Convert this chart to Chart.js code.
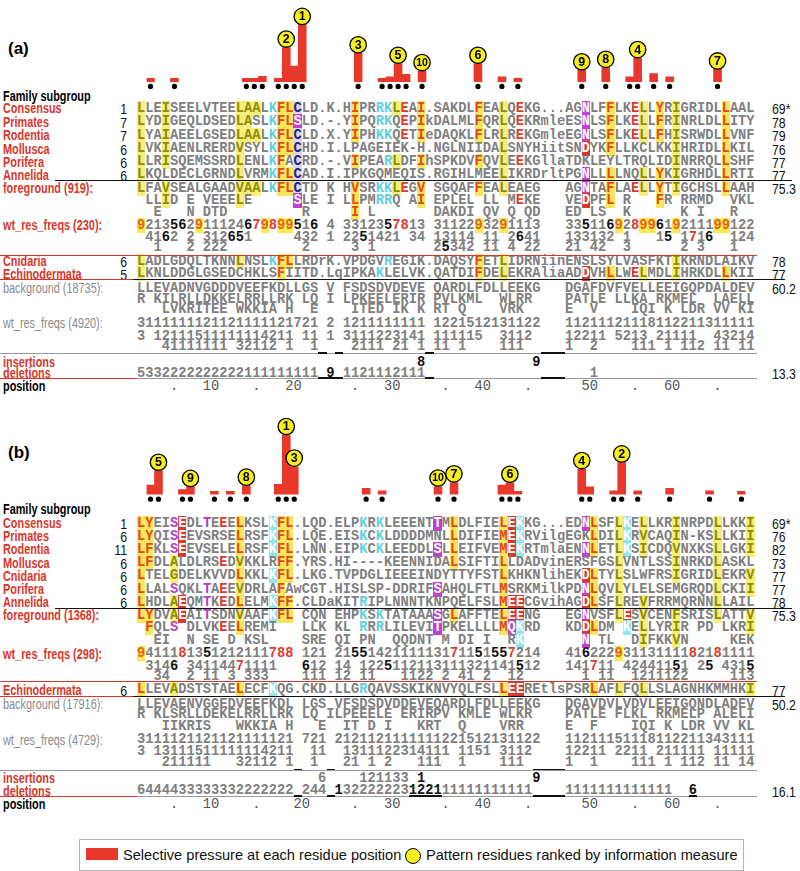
<!DOCTYPE html>
<html>
<head>
<meta charset="utf-8">
<title>Selective pressure on alignment columns</title>
<script src="https://cdn.jsdelivr.net/npm/chart.js@4.4.1/dist/chart.umd.min.js"></script>
<style>
  body { margin: 0; background: #fff; }
  #page { position: relative; width: 800px; height: 871px; overflow: hidden; }
  canvas { position: absolute; left: 137px; }
  .seq { position: absolute; left: 137px; height: 14px; line-height: 14px; white-space: pre;
         font: bold 13.73px "Liberation Mono", "Courier New", monospace; color: #808080; }
  .seq.pos { font-weight: normal; color: #555; }
  .lab { position: absolute; left: 3px; line-height: 14px; white-space: nowrap;
         transform-origin: 0 50%; transform: scaleX(0.75);
         font: bold 14.5px "Liberation Sans", Arial, sans-serif; color: #d8372b; }
  .lab.blk { color: #000; }
  .lab.gry { color: #8a8a8a; font-weight: normal; }
  .num { position: absolute; line-height: 14px; white-space: nowrap;
         font: 15px "Liberation Sans", Arial, sans-serif; color: #111; transform: scaleX(0.82); }
  .num.left { left: 77px; width: 50px; text-align: right; transform-origin: 100% 50%; }
  .num.right { left: 772px; transform-origin: 0 50%; }
  .panel { position: absolute; left: 8px; font: bold 17px "Liberation Sans", Arial, sans-serif; }
  .ln { position: absolute; height: 1px; }
  /* residue classes */
  .y { background: #f4ee7c; color: #8f8c0a; }
  .o { background: #f5e75a; color: #e4481e; }
  .c { color: #5fd0e2; }
  .C { background: #92e4ef; color: #fff; }
  .m { background: #c43fd0; color: #fff; }
  .p { color: #b43fc8; }
  .r { color: #e0392c; }
  .R { background: #d8392c; color: #fff; }
  .v { background: #ddd4f2; color: #1c2380; }
  .n { background: #f7ea52; color: #e4641c; }
  .k { color: #111; }
  #legend { position: absolute; left: 79px; top: 839px; width: 663px; height: 30px;
            border: 1px solid #b4b4b4; font: 14.6px "Liberation Sans", Arial, sans-serif; color: #111; }
  #legend .sw { position: absolute; left: 6px; top: 8px; width: 32px; height: 12px; background: #e8382b; }
  #legend .ci { position: absolute; left: 325px; top: 8px; width: 16px; height: 16px; border-radius: 50%;
                background: #f6ee1e; border: 1.3px solid #000; box-sizing: border-box; }
  #legend .t1 { position: absolute; left: 43px; top: 7px; }
  #legend .t2 { position: absolute; left: 346px; top: 7px; }
</style>
</head>
<body>
<div id="page">
  <canvas id="barsA" width="618" height="100" style="top:0px"></canvas>
  <canvas id="barsB" width="618" height="112" style="top:400px"></canvas>
  <div id="legend">
    <div class="sw"></div><div class="t1">Selective pressure at each residue position</div>
    <div class="ci"></div><div class="t2">Pattern residues ranked by information measure</div>
  </div>
</div>
<script>
// alignment columns (categories)
const columns = Array.from({ length: 75 }, (_, i) => i + 1);

// ---- panel (a) data ----
const pressureColsA = [1, 4, 13, 14, 15, 17, 18, 19, 20, 27, 30, 31, 32, 33, 35, 42, 45, 47, 55, 58, 61, 62, 64, 66, 72];
const pressureA     = [4, 4, 4, 4, 6.5, 4, 42, 19, 70, 35, 4, 6, 22, 9, 13, 22, 6, 4, 14, 17, 6, 29, 10, 6, 15];
const rankColsA = [20, 18, 27, 62, 32, 42, 72, 58, 55, 35];   // rank 1..10

// ---- panel (b) data ----
const pressureColsB = [1, 2, 5, 6, 9, 11, 13, 17, 18, 19, 28, 30, 37, 39, 45, 46, 47, 55, 56, 59, 60, 62, 66, 71, 75];
const pressureB     = [11, 28, 5.5, 8.5, 3.5, 3.5, 10, 12, 71, 33, 7, 4, 9, 14, 11, 13.5, 3.5, 30, 9, 4, 38, 4, 7, 4, 3.5];
const rankColsB = [18, 60, 19, 55, 2, 46, 39, 13, 6, 37];

// position ruler tick labels: [column of last char, text]
const posTicksA = [[5, '.'], [10, '10'], [15, '.'], [20, '20'], [27, '.'], [32, '30'], [38, '.'], [43, '40'], [48, '.'], [56, '50'], [61, '.'], [66, '60'], [71, '.']];
const posTicksB = [[5, '.'], [10, '10'], [15, '.'], [21, '20'], [27, '.'], [32, '30'], [38, '.'], [43, '40'], [48, '.'], [56, '50'], [61, '.'], [66, '60'], [71, '.']];

// pattern residues per column: residue + class letter
const patternA = {
  1: 'Ly', 4: 'Iy Vy', 13: 'Ly Vy', 14: 'Ay', 15: 'Ay', 17: 'Kc', 18: 'Fo', 19: 'Lo', 20: 'Cv Sm',
  27: 'Io Vo Lo', 30: 'Rc Kc', 31: 'Kc Rc', 32: 'Ly', 33: 'Er', 35: 'Io Vo', 42: 'Fo', 45: 'Ly', 47: 'Er',
  55: 'Nm DR', 58: 'Fo Lo', 61: 'Er', 62: 'Ly', 64: 'Yo Fo', 66: 'Iy', 72: 'Lo'
};
const patternB = {
  1: 'Lo', 2: 'Yo Fo', 5: 'Sp Ay Gy', 6: 'ER', 9: 'Tp', 11: 'Er', 13: 'Lo Vy', 17: 'KC', 18: 'Fo', 19: 'Lo Fo',
  28: 'Kc Rc', 30: 'Kc Rc', 37: 'Tm Sm', 39: 'Lo', 45: 'Lo Mo', 46: 'ER Qm', 47: 'KC ER', 55: 'Nm DR', 56: 'Lo',
  59: 'Ly', 60: 'KC ER', 62: 'Ly Vy Iy', 66: 'Iy Fy Vy', 71: 'Ly', 75: 'Iy Vy'
};

// ---- panel (a) sequences ----
const famNamesA = ['Consensus', 'Primates', 'Rodentia', 'Mollusca', 'Porifera', 'Annelida'];
const famStartA = ['1', '7', '7', '6', '6', '6'];
const famLenA = ['69*', '78', '79', '76', '77', '77'];
const famSeqA = [
  'LLEISEELVTEELAALKFLCLD.K.HIPRRKL' + 'EAI.SAKDLFEALQEKG...AGNLFFLKELLYRIGRIDLLAAL',
  'LYDIGEQLDSEDLASLKFLSLD.-.YIPQRKQ' + 'EPIkDALMLFQRLQEKRmleESNLSFLKELLFRINRLDLLITY',
  'LYAIAEELGSEDLAALKFLCLD.X.YIPHKKQ' + 'ETIeDAQKLFLRLREKGmleEGNLSFLKELLFHISRWDLLVNF',
  'LVKIAENLRERDVSYLKFLCHD.I.LPAGEIE' + 'K-H.NGLNIIDALSNYHiitSNDYKFLLKCLKKIHRIDLLKIL',
  'LLRISQEMSSRDLENLKFACRD.-.VIPEARL' + 'DFIhSPKDVFQVLEEKGllaTDKLEYLTRQLIDINRRQLLSHF',
  'LKQLDECLGRNDLVRMKFLCAD.I.IPKGQME' + 'QIS.RGIHLMEELIKRDrltPGNLLLLNQLLYKIGRHDLLRTI'
];
const fgSeqA = [
  'LFAVSEALGAADVAALKFLCTD K HVSRKKL' + 'EGV SGQAFFEALEAEG   AGNTAFLAELLYTIGCHSLLAAH',
  ' LLID E VEEELE     SLE I LLPMRRQ' + ' AI EPLEL LL MEKE   VEDPFL R   FR RRMD  VKL',
  '  E   N DTD         R     I L   ' + '    DAKDI QV Q QD   ED LS  K      K I   R  '
];
const fgFreqA = [
  '9213562911124679899516 4 3312357' + '813 3112293291113   33511692899619211199122',
  ' 4162 2 312651     432 1 2251421' + ' 34 13114 11 2641   133132 1   15 1716  124',
  '  1   2 222         2     3 1   ' + '    25342 11 4 22   21 42  3      2 3   1  '
];
const extraNamesA = ['Cnidaria', 'Echinodermata'];
const extraStartA = ['6', '5'];
const extraLenA = ['78', '77'];
const extraSeqA = [
  'LADLGDQLTKNNLNSLKFLLRDrK.VPDGVRE' + 'GIK.DAQSYFETLIDRNiinENSLSYLVASFKTIKRNDLAIKV',
  'LKNLDDGLGSEDCHKLSFIITD.LqIPKAKLE' + 'LVK.QATDIFDELEKRAliaADDVHLLWELMDLIHRKDLLKII'
];
const bgSeqA = [
  'LLEVADNVGDDDVEEFKDLLGS V FSDSDVD' + 'EVE QARDLFDLLEEKG   DGAFDVFVELLEEIGQPDALDEV',
  'R KILRLLDKKELRRLLRK LQ I LPKEELE' + 'RIR PVLKML  WLRR    PATLE LLKA RKMEL  LAELL',
  '   LVKRITEE WKKIA H  E    ITED I' + 'K K RT Q    VRK     E  V    IQI K LDR VV KI'
];
const bgFreqA = [
  '3111111121121111121721 2 1211111' + '111 1221512131122   11211121118112211311111',
  '3 12111511111114211 11 1 3111223' + '141 111115  3112    12211 5213 21111  43214',
  '   41111111 32112 1  1    2111 2' + '1 1 11 1    111     1  2    111 1 112 11 11'
];
const insertA = '                                  8             9';
const deleteA = '5332222222222111111111 9 1121112111                    1';
const boldInsA = [35, 49], boldDelA = [24];

// ---- panel (b) sequences ----
const famNamesB = ['Consensus', 'Primates', 'Rodentia', 'Mollusca', 'Cnidaria', 'Porifera', 'Annelida'];
const famStartB = ['1', '6', '11', '6', '6', '6', '6'];
const famLenB = ['69*', '76', '82', '73', '77', '77', '78'];
const famSeqB = [
  'LYEISEDLTEEELKSLKFL.LQD.ELPKRKLE' + 'EENTTMLDLFIELEKKG...EDNLSFLKELLKRINRPDLLKKI',
  'LYQISEEVSRSELRSFKFL.LQE.EISKCKLD' + 'DDDMNLLDIFIEMEKRVilgEGKLDILKRVCAQIN-KSLLKII',
  'LFKLSEEVSELELRSFKFL.LNN.EIPKCKLE' + 'EDDLSLLEIFVEMEKRTmlaENNLETLKSICDQVNXKSLLGKI',
  'LFDLALDLRSEDVKKLRFF.YRS.HI----KE' + 'ENNIDALSIFTILLDADvinERSFGSLVNTLSSINRKDLASKL',
  'LTELGDELKVVDLKKLKFL.LKG.TVPDGLIE' + 'EEINDYTTYFSTLKHKNlihEKDLTYLSLWFRSIGRIDLEKRV',
  'LLALSQKLTAEEVDRLAFAwCGT.HISLSP-D' + 'DRIFSAHQLFTLMSRKMilkPDNLQVLYLELSEMGRQDLCKII',
  'LHDLAEQMTKEDLELMKFF.CLDaKITRIPLN' + 'NNTKNPQELFSLMEECGvihAGDLSFLREVFRRMQRNNLLAIL'
];
const fgSeqB = [
  'LYDVAEAITSDNVAAFKFL CQN EHPKSKTA' + 'TAAASGLAFFTELEENG   EGNVSFLESVCENFSRISLATTV',
  ' FQLS DLVKEELREMI   LLK KL RRRLI' + 'LEVITPKELLLLMQKRD   KDDLDM KELLYRIR PD LKRI',
  '  EI  N SE D KSL    SRE QI PN  Q' + 'QDNT M DI I  RK       N TL  DIFKKVN     KEK'
];
const fgFreqB = [
  '9411181351212111788 121 21551421' + '11113171151557214   41622293113111182181111',
  ' 3146 34114471111   612 14 12251' + '12113111321141512   141711 42441151 25 4315',
  '  34  2 11 3 333    111 12 11   ' + '1122 2 41 2  12       1 11  1211122     113'
];
const extraNamesB = ['Echinodermata'];
const extraStartB = ['6'];
const extraLenB = ['77'];
const extraSeqB = ['LLEVADSTSTAELECFKQG.CKD.LLGRQAVS' + 'SKIKNVYQLFSLLEEREtlsPSRLAFLFQLLSLAGNHKMMHKI'];
const bgSeqB = [
  'LLEVAENVGGEDVEEFKDL LGS VFSDSDVD' + 'DEVEQARDLFDLLEEKG   DGAVDVLVDVLEEIGQNDLADEV',
  'R KLSRLLDEKELRRLLRK LQ ILPEEELE ' + 'ERIRPV KMLE WLKR    PATLE FLKL RKMELP ALELI',
  '   IIKRIS   WKKIA H   E  IT D I ' + '  KRT  Q    VRR     E  F    IQI K LDR VV KL'
];
const bgFreqB = [
  '3111121121121111121 721 21211211' + '11111221512131122   11211151118112211343111',
  '3 13111511111114211  11  1311122' + '314111 1151 3112    12211 2211 211111 11111',
  '   211111   32112 1  1   21 1 2 ' + '  111  1    111     1  1    111 1 112 11 14'
];
const insertB = '                      6    121133 1             9';
const deleteB = '6444433333332222222 244 132222223122111111111111    1111111111111  6';
const boldInsB = [35, 49], boldDelB = [25, 34, 35, 36, 37, 68];

// ---------------------------------------------------------------
const page = document.getElementById('page');
const COL_W = 618 / 75;
const colX = c => 137 + (c - 1) * COL_W;

function add(cls, css, html) {
  const d = document.createElement('div');
  d.className = cls;
  Object.assign(d.style, css);
  d.innerHTML = html;
  page.appendChild(d);
  return d;
}

function parsePattern(p) {
  const out = {};
  Object.keys(p).forEach(c => {
    out[c] = {};
    p[c].split(' ').forEach(t => { out[c][t[0]] = t[1]; });
  });
  return out;
}

function seqRow(text, y, kind, pattern, bold) {
  let html = '';
  for (let i = 0; i < text.length; i++) {
    const ch = text[i];
    let cls = '';
    if (kind === 'seq' && pattern[i + 1] && pattern[i + 1][ch]) cls = pattern[i + 1][ch];
    else if (kind === 'freq') cls = { '9': 'n', '8': 'r', '7': 'r', '5': 'k', '6': 'k' }[ch] || '';
    else if (kind === 'indel' && bold.includes(i + 1)) cls = 'k';
    html += cls ? '<span class="' + cls + '">' + ch + '</span>' : ch;
  }
  add('seq', { top: (y - 6.5) + 'px' }, html);
}

function label(text, y, extra) {
  add('lab' + (extra ? ' ' + extra : ''), { top: (y - 7) + 'px' }, text);
}
function leftNum(text, y) { add('num left', { top: (y - 7) + 'px' }, text); }
function rightNum(text, y) { add('num right', { top: (y - 7) + 'px' }, text); }
function line(x1, x2, y, color, h) {
  add('ln', { left: x1 + 'px', width: (x2 - x1) + 'px', top: y + 'px', background: color, height: (h || 1) + 'px' }, '');
}
function colLine(c1, c2, y) { line(colX(c1), colX(c2 + 1), y, '#111', 1.5); }

function rulerRow(ticks, y) {
  const chars = new Array(75).fill(' ');
  ticks.forEach(([c, t]) => { for (let k = 0; k < t.length; k++) chars[c - t.length + k] = t[k]; });
  add('seq pos', { top: (y - 6.5) + 'px' }, chars.join(''));
}

// ---- bars, dots and ranked circles through Chart.js ----
const DOT_LEVEL = -6;
const CIRCLE_GAP = 10.5;
const rankText = {
  id: 'rankText',
  afterDatasetsDraw(chart) {
    const ds = chart.data.datasets[2];
    const ctx = chart.ctx;
    ctx.save();
    ctx.fillStyle = '#000';
    ctx.textAlign = 'center';
    ctx.textBaseline = 'middle';
    chart.getDatasetMeta(2).data.forEach((pt, i) => {
      const r = ds.ranks[i];
      if (!r) return;
      ctx.font = 'bold ' + (r.length > 1 ? 10.5 : 12.5) + 'px "Liberation Sans", Arial, sans-serif';
      ctx.fillText(r, pt.x, pt.y + 0.5);
    });
    ctx.restore();
  }
};

function drawPressure(id, cols, values, rankCols, yMin, yMax) {
  const pressure = columns.map(c => { const k = cols.indexOf(c); return k < 0 ? null : values[k]; });
  const dots = pressure.map(v => (v === null ? null : DOT_LEVEL));
  const circles = columns.map(c => (rankCols.includes(c) ? pressure[c - 1] + CIRCLE_GAP : null));
  const ranks = columns.map(c => { const k = rankCols.indexOf(c); return k < 0 ? '' : String(k + 1); });
  new Chart(document.getElementById(id), {
    type: 'bar',
    data: {
      labels: columns,
      datasets: [
        { type: 'bar', data: pressure, backgroundColor: '#e8382b', barPercentage: 1, categoryPercentage: 1, order: 3 },
        { type: 'line', data: dots, showLine: false, pointRadius: 2.6, pointBackgroundColor: '#000',
          pointBorderWidth: 0, order: 2, clip: false },
        { type: 'line', data: circles, ranks: ranks, showLine: false, pointRadius: 8.2,
          pointBackgroundColor: '#f6ee1e', pointBorderColor: '#000', pointBorderWidth: 1.3, order: 1, clip: false }
      ]
    },
    options: {
      responsive: false,
      animation: false,
      events: [],
      layout: { padding: 0 },
      plugins: { legend: { display: false }, tooltip: { enabled: false } },
      scales: {
        x: { display: false, offset: true },
        y: { display: false, min: yMin, max: yMax }
      }
    },
    plugins: [rankText]
  });
}

drawPressure('barsA', pressureColsA, pressureA, rankColsA, -11, 89);
drawPressure('barsB', pressureColsB, pressureB, rankColsB, -10, 102);

// ---- text of the two panels ----
function panel(cfg) {
  const pat = parsePattern(cfg.pattern);
  add('panel', { top: (cfg.tagY - 10) + 'px' }, cfg.tag);
  label('Family subgroup', cfg.dotY, 'blk');
  cfg.famNames.forEach((n, i) => {
    const y = cfg.famY[i];
    label(n, y); leftNum(cfg.famStart[i], y); rightNum(cfg.famLen[i], y);
    seqRow(cfg.famSeq[i], y, 'seq', pat);
  });
  label(cfg.fgLabel, cfg.fgY[0]);
  cfg.fgSeq.forEach((s, i) => seqRow(s, cfg.fgY[i], 'seq', pat));
  rightNum('75.3', cfg.fgY[0]);
  label(cfg.fgFreqLabel, cfg.fgFreqY[0]);
  cfg.fgFreq.forEach((s, i) => seqRow(s, cfg.fgFreqY[i], 'freq', pat));
  cfg.extraNames.forEach((n, i) => {
    const y = cfg.extraY[i];
    label(n, y); leftNum(cfg.extraStart[i], y); rightNum(cfg.extraLen[i], y);
    seqRow(cfg.extraSeq[i], y, 'seq', pat);
  });
  label(cfg.bgLabel, cfg.bgY[0], 'gry');
  cfg.bgSeq.forEach((s, i) => seqRow(s, cfg.bgY[i], 'plain'));
  rightNum(cfg.bgScore, cfg.bgY[0]);
  label(cfg.bgFreqLabel, cfg.bgFreqY[0], 'gry');
  cfg.bgFreq.forEach((s, i) => seqRow(s, cfg.bgFreqY[i], 'plain'));
  label('insertions', cfg.insY);
  seqRow(cfg.ins, cfg.insY, 'indel', pat, cfg.boldIns);
  label('deletions', cfg.delY);
  seqRow(cfg.del, cfg.delY, 'indel', pat, cfg.boldDel);
  rightNum(cfg.delScore, cfg.delY);
  label('position', cfg.posY, 'blk');
  rulerRow(cfg.ticks, cfg.posY);
  // separators
  line(55, 792, cfg.famLineY, '#111');
  line(0, 757, cfg.redLineY, '#d8372b');
  line(0, 133, cfg.extraLineY, '#d8372b');
  line(133, 785, cfg.extraLineY, '#111');
  line(0, 757, cfg.greyLineY, '#9a9a9a');
  line(0, 137, cfg.delLineY, '#d8372b');
  line(137, 757, cfg.delLineY, '#9a9a9a');
  cfg.gapGrey.forEach(([a, b]) => colLine(a, b, cfg.greyLineY - 1));
  cfg.gapDel.forEach(([a, b]) => colLine(a, b, cfg.delLineY - 1));
}

panel({
  tag: '(a)', tagY: 49, dotY: 95, pattern: patternA,
  famNames: famNamesA, famStart: famStartA, famLen: famLenA, famSeq: famSeqA,
  famY: [107, 120.5, 134, 147.5, 160.5, 173.5],
  fgLabel: 'foreground (919):', fgSeq: fgSeqA, fgY: [187, 199.5, 211],
  fgFreqLabel: 'wt_res_freqs (230):', fgFreq: fgFreqA, fgFreqY: [224, 236.5, 246.5],
  extraNames: extraNamesA, extraStart: extraStartA, extraLen: extraLenA, extraSeq: extraSeqA, extraY: [260, 272.5],
  bgLabel: 'background (18735):', bgSeq: bgSeqA, bgY: [287, 298, 308.5], bgScore: '60.2',
  bgFreqLabel: 'wt_res_freqs (4920):', bgFreq: bgFreqA, bgFreqY: [322, 335, 345.5],
  ins: insertA, boldIns: boldInsA, insY: 361, del: deleteA, boldDel: boldDelA, delY: 372, delScore: '13.3',
  posY: 385, ticks: posTicksA,
  famLineY: 180, redLineY: 255, extraLineY: 279, greyLineY: 353, delLineY: 378,
  gapGrey: [[23, 23], [25, 25], [36, 36], [50, 52]], gapDel: [[23, 25], [36, 36], [50, 52]]
});

panel({
  tag: '(b)', tagY: 453, dotY: 508, pattern: patternB,
  famNames: famNamesB, famStart: famStartB, famLen: famLenB, famSeq: famSeqB,
  famY: [522, 535, 548, 561.5, 574.5, 588, 601],
  fgLabel: 'foreground (1368):', fgSeq: fgSeqB, fgY: [614, 626.5, 639],
  fgFreqLabel: 'wt_res_freqs (298):', fgFreq: fgFreqB, fgFreqY: [652.5, 665, 675.5],
  extraNames: extraNamesB, extraStart: extraStartB, extraLen: extraLenB, extraSeq: extraSeqB, extraY: [688.5],
  bgLabel: 'background (17916):', bgSeq: bgSeqB, bgY: [703, 713.5, 725], bgScore: '50.2',
  bgFreqLabel: 'wt_res_freqs (4729):', bgFreq: bgFreqB, bgFreqY: [738.5, 750, 761.5],
  ins: insertB, boldIns: boldInsB, insY: 777, del: deleteB, boldDel: boldDelB, delY: 789.5, delScore: '16.1',
  posY: 803, ticks: posTicksB,
  famLineY: 608, redLineY: 681, extraLineY: 696, greyLineY: 769.5, delLineY: 796,
  gapGrey: [[20, 20], [24, 24], [49, 52]], gapDel: [[20, 20], [24, 24], [34, 37], [49, 52], [68, 68]]
});
</script>
</body>
</html>
